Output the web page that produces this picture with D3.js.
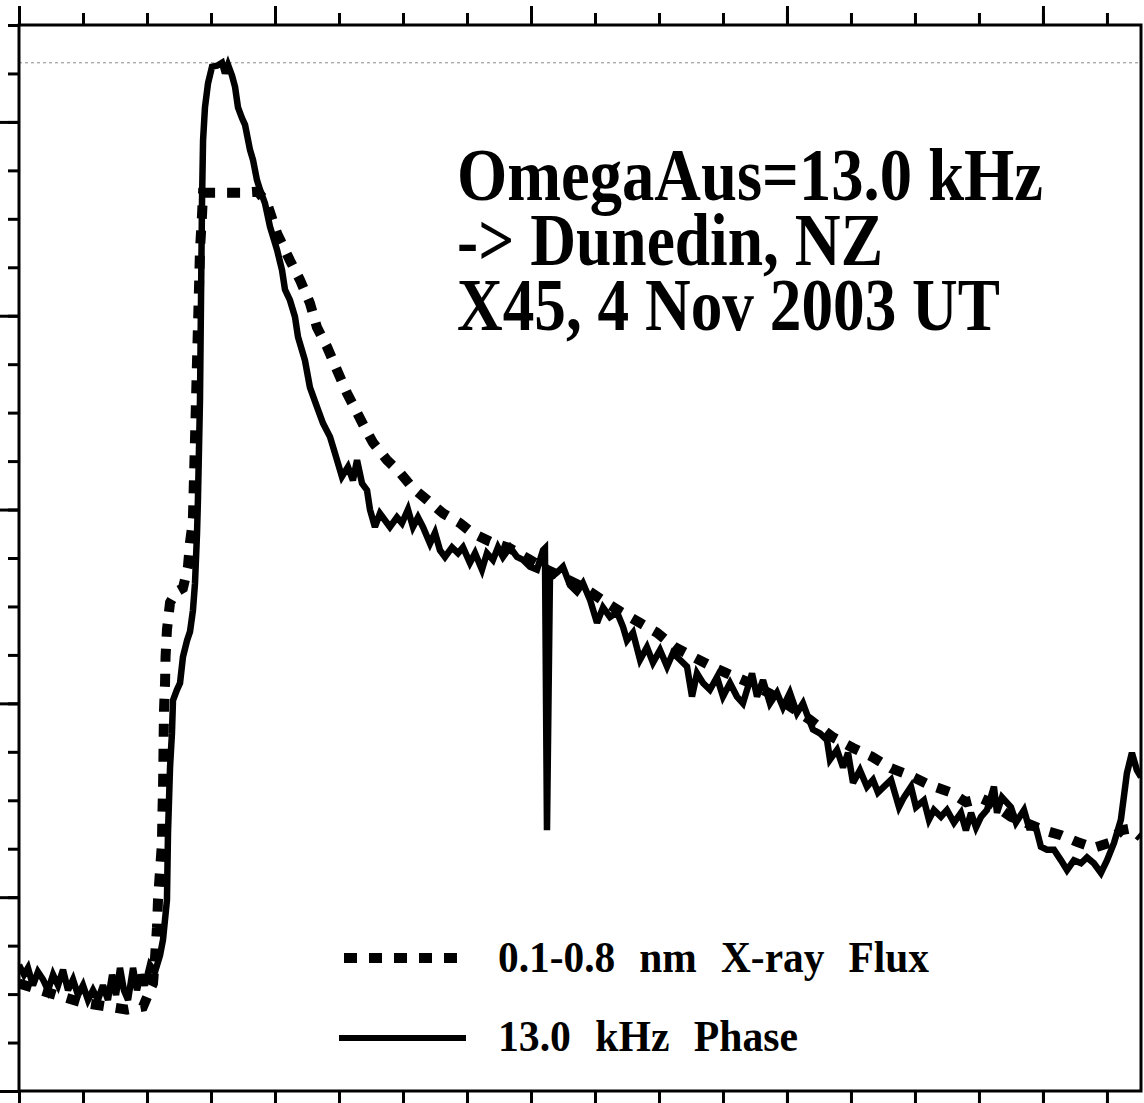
<!DOCTYPE html>
<html>
<head>
<meta charset="utf-8">
<script src="https://cdn.jsdelivr.net/npm/d3@7"></script>
<style>
  html, body { margin: 0; padding: 0; background: #fff; }
  svg { display: block; }
  text { font-family: "Liberation Serif", "Times New Roman", serif; font-weight: bold; fill: #000; }
</style>
</head>
<body>
<svg id="chart" width="1144" height="1103"></svg>
<script>
// 13.0 kHz phase (OmegaAus -> Dunedin), time in minutes from the left edge
const phaseT = [0,0.39,0.70,1.09,1.48,1.88,2.27,2.66,3.05,3.44,
  3.83,4.22,4.61,5.00,5.39,5.78,6.17,6.56,6.95,7.27,
  7.58,7.89,8.20,8.52,8.91,9.22,9.53,9.84,10.23,10.63,
  11.02,11.25,11.56,11.64,11.80,11.95,12.03,12.34,12.58,12.81,
  13.13,13.36,13.59,13.75,13.91,13.98,14.06,14.14,14.22,14.30,
  14.38,14.53,14.77,15.08,15.47,15.86,16.09,16.33,16.64,16.88,
  17.11,17.42,17.66,18.05,18.28,18.59,18.83,19.22,19.61,20.16,
  20.55,20.78,21.17,21.56,21.80,22.34,22.73,23.28,23.75,24.30,
  24.69,25.23,25.70,26.09,26.41,26.80,27.19,27.42,27.81,28.20,
  28.59,28.98,29.53,29.92,30.39,30.78,31.17,31.56,32.11,32.50,
  32.89,33.28,33.83,34.30,34.69,35.23,35.63,36.17,36.56,37.03,
  37.42,37.81,38.36,38.91,39.38,39.92,40.47,40.94,41.09,41.25,
  41.48,42.03,42.50,43.05,43.59,44.06,44.61,45.16,45.63,46.17,
  46.72,47.19,47.50,47.97,48.52,49.06,49.53,50.08,50.63,51.09,
  51.64,52.19,52.58,52.97,53.44,53.98,54.53,55.00,55.55,56.09,
  56.56,57.27,57.66,58.13,58.67,59.22,59.69,60.23,60.78,61.25,
  61.64,62.03,62.58,63.13,63.36,63.91,64.38,64.77,65.16,65.70,
  66.25,66.72,67.11,67.58,68.13,68.75,69.14,69.69,70.08,70.70,
  71.09,71.48,72.03,72.50,73.05,73.59,73.98,74.38,74.77,75.16,
  75.63,76.17,76.41,76.80,77.50,77.89,78.52,78.91,79.45,79.84,
  80.31,80.86,81.41,81.88,82.42,82.97,83.44,83.98,84.53,85.00,
  85.55,86.09,86.56,86.95,87.34,87.66];
const phaseV = [13.0,12.0,12.7,10.9,12.3,11.5,10.4,12.0,10.9,12.5,
  10.4,11.5,9.9,10.9,9.4,10.4,9.4,10.9,9.4,12.0,
  9.9,12.7,10.4,9.4,12.7,10.4,12.0,10.9,13.0,12.3,
  14.0,15.6,19.7,26.6,33.4,36.9,40.3,41.4,42.1,44.8,
  46.5,47.4,49.6,52.4,57.6,61.0,66.1,71.3,81.6,91.9,
  98.1,101.5,104.0,105.7,105.8,106.1,105.0,105.9,104.8,103.6,
  101.5,100.4,99.7,97.1,96.1,94.0,93.0,91.6,89.2,86.8,
  84.7,82.7,81.6,79.9,77.8,75.4,72.6,70.6,68.9,67.5,
  65.8,63.4,64.4,63.0,65.1,62.7,62.0,60.0,58.2,59.6,
  58.9,58.2,59.2,58.6,60.0,58.2,59.2,58.2,56.5,57.6,
  55.8,55.1,56.1,55.5,56.1,54.5,55.5,53.8,55.5,54.8,
  56.1,55.1,56.1,55.1,54.8,54.1,53.8,55.8,56.0,26.9,
  52.9,53.5,54.1,52.2,51.5,52.4,50.7,48.3,49.9,48.9,
  49.4,47.9,46.5,47.3,44.5,45.8,44.2,45.5,43.8,45.2,
  44.5,43.8,40.7,43.1,42.1,41.4,42.7,40.7,42.1,40.7,
  40.0,43.1,40.7,42.4,40.0,41.1,39.6,41.1,39.0,40.0,
  38.6,37.3,36.9,36.2,34.2,35.2,33.4,34.9,31.8,33.1,
  31.4,32.1,30.8,31.4,32.1,29.3,30.3,31.4,29.3,30.0,
  28.0,29.0,28.3,29.0,27.7,28.7,26.9,28.7,27.2,28.3,
  29.0,31.4,28.7,30.3,29.3,27.7,29.0,27.2,27.2,25.2,
  24.9,24.9,23.8,22.8,23.8,23.5,24.1,23.5,22.5,23.8,
  25.6,28.0,32.8,34.9,33.1,32.4];

// GOES 0.1-0.8 nm X-ray flux, same time base (flat top = detector saturation)
const fluxT = [0,2.42,5.00,8.44,9.69,10.23,10.47,10.63,10.78,10.86,
  11.02,11.17,11.20,11.25,11.28,11.30,11.33,11.41,11.45,11.56,
  11.80,12.27,12.81,13.20,13.36,13.52,13.59,13.75,13.91,14.06,
  14.14,14.30,14.38,15.55,16.64,17.58,18.67,19.38,20.16,21.17,
  21.95,22.73,23.28,24.06,24.84,25.63,26.41,27.03,27.66,28.75,
  29.77,30.78,31.88,33.13,34.45,35.39,36.80,38.36,39.92,41.25,
  42.50,44.06,45.63,46.95,48.52,49.84,51.25,52.66,54.14,55.31,
  57.11,58.67,60.23,61.80,63.59,65.16,66.64,68.13,69.53,71.09,
  72.81,73.98,75.16,75.86,77.50,80.08,81.41,82.66,83.98,85.16,
  86.09,86.88,87.66];
const fluxV = [11.1,10.1,9.1,8.4,8.7,10.4,11.1,13.8,16.9,19.7,
  22.8,25.6,28.3,31.1,33.9,36.5,39.3,42.1,44.8,47.6,
  50.4,51.5,51.9,54.1,56.6,58.2,59.2,67.2,75.4,82.7,
  86.8,90.4,92.7,92.7,92.7,92.7,92.8,91.6,88.5,85.7,
  83.7,81.3,78.8,76.8,74.4,72.0,70.0,68.4,66.9,65.1,
  63.8,62.2,61.0,59.6,58.6,57.6,56.7,56.0,54.8,53.8,
  53.0,52.0,50.6,49.5,48.3,47.3,45.8,44.8,43.8,43.1,
  42.1,41.0,39.7,38.3,36.5,35.4,34.5,33.3,32.6,31.6,
  30.8,29.8,30.2,29.8,28.3,26.9,26.4,25.7,25.1,25.6,
  26.9,27.1,26.2];

// tick positions (no tick labels are printed)
const xMinorTicks = [0,5,10,15,20,25,30,35,40,45,50,55,60,65,70,75,80,85];
const xMajorTicks = [0,20,40,60,80];
const yMinorTicks = [0,5,10,15,20,25,30,35,40,45,50,55,60,65,70,75,80,85,90,95,100,105,110];
const yMajorTicks = [0,20,40,60,80,100];

const titleLines = ["OmegaAus=13.0 kHz", "-> Dunedin, NZ", "X45, 4 Nov 2003 UT"];
const titleWidths = [586, 426, 543];
const legendLabels = ["0.1-0.8 nm X-ray Flux", "13.0 kHz Phase"];
const legendWidths = [431, 300];

const svg = d3.select("#chart");
const padLeft = 19, padTop = 25, iw = 1122, ih = 1066;

const x = d3.scaleLinear().domain([0, 87.66]).range([0, iw]);
const y = d3.scaleLinear().domain([0, 110]).range([ih, 0]);

const plot = svg.append("g").attr("transform", `translate(${padLeft},${padTop})`);

svg.append("defs").append("clipPath").attr("id", "plotClip")
  .append("rect").attr("x", 0).attr("y", 0).attr("width", iw).attr("height", ih);

// peak reference level
const peak = d3.max(phaseV);
plot.append("line")
  .attr("x1", 0).attr("x2", iw)
  .attr("y1", y(peak)).attr("y2", y(peak))
  .attr("stroke", "#8a8a8a").attr("stroke-width", 1)
  .attr("stroke-dasharray", "3 3");

const lineGen = d3.line().x(d => x(d[0])).y(d => y(d[1]));
const fluxData = fluxT.map((t, i) => [t, fluxV[i]]);
const phaseData = phaseT.map((t, i) => [t, phaseV[i]]);

const curves = plot.append("g").attr("clip-path", "url(#plotClip)");
curves.append("path").datum(fluxData)
  .attr("d", lineGen)
  .attr("fill", "none").attr("stroke", "#000")
  .attr("stroke-width", 10).attr("stroke-dasharray", "13 12");
curves.append("path").datum(phaseData)
  .attr("d", lineGen)
  .attr("fill", "none").attr("stroke", "#000")
  .attr("stroke-width", 6.5).attr("stroke-linejoin", "miter").attr("stroke-miterlimit", 3);

// frame
plot.append("rect").attr("x", 0).attr("y", 0).attr("width", iw).attr("height", ih)
  .attr("fill", "none").attr("stroke", "#000").attr("stroke-width", 3);

function styleAxis(g) {
  g.select(".domain").remove();
  g.selectAll(".tick line").attr("stroke", "#000").attr("stroke-width", 3);
  g.selectAll(".tick text").remove();
}
plot.append("g").call(d3.axisTop(x).tickValues(xMinorTicks).tickSize(12).tickFormat("")).call(styleAxis);
plot.append("g").call(d3.axisTop(x).tickValues(xMajorTicks).tickSize(19).tickFormat("")).call(styleAxis);
plot.append("g").attr("transform", `translate(0,${ih})`)
  .call(d3.axisBottom(x).tickValues(xMinorTicks).tickSize(12).tickFormat("")).call(styleAxis);
plot.append("g").attr("transform", `translate(0,${ih})`)
  .call(d3.axisBottom(x).tickValues(xMajorTicks).tickSize(19).tickFormat("")).call(styleAxis);
plot.append("g").call(d3.axisLeft(y).tickValues(yMinorTicks).tickSize(11).tickFormat("")).call(styleAxis);
plot.append("g").call(d3.axisLeft(y).tickValues(yMajorTicks).tickSize(19).tickFormat("")).call(styleAxis);

// title block: one text element, a tall narrow line per tspan
svg.append("text").attr("class", "title").attr("font-size", 73)
  .selectAll("tspan").data(titleLines).join("tspan")
  .attr("x", 457).attr("y", (d, i) => 200 + i * 65)
  .attr("textLength", (d, i) => titleWidths[i])
  .attr("lengthAdjust", "spacingAndGlyphs")
  .text(d => d);

// legend
const legend = svg.append("g");
legend.append("line").attr("x1", 344).attr("x2", 460).attr("y1", 958).attr("y2", 958)
  .attr("stroke", "#000").attr("stroke-width", 10).attr("stroke-dasharray", "13 12");
legend.append("line").attr("x1", 339).attr("x2", 466).attr("y1", 1038).attr("y2", 1038)
  .attr("stroke", "#000").attr("stroke-width", 6);
legend.selectAll("text.lab").data(legendLabels).join("text")
  .attr("class", "lab")
  .attr("x", 498).attr("y", (d, i) => 972 + i * 79)
  .attr("font-size", 45)
  .style("word-spacing", "15px")
  .attr("textLength", (d, i) => legendWidths[i])
  .attr("lengthAdjust", "spacingAndGlyphs")
  .text(d => d);
</script>
</body>
</html>
